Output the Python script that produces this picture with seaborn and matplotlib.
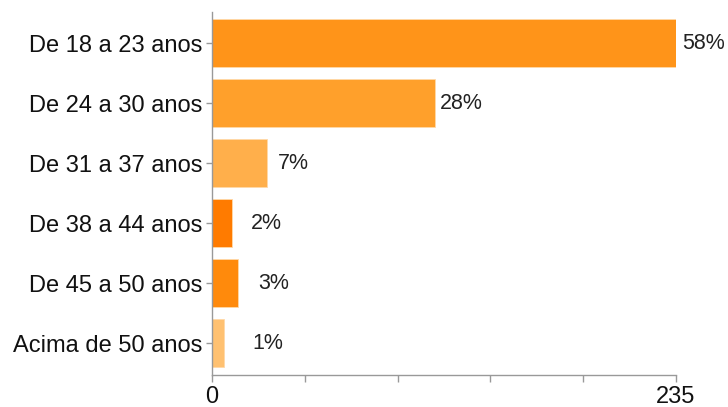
import matplotlib
matplotlib.use("Agg")
import matplotlib.pyplot as plt
import seaborn as sns
import pandas as pd

# faixas etarias e contagens (eixo vai de 0 a 235)
categories = ["De 18 a 23 anos", "De 24 a 30 anos", "De 31 a 37 anos",
              "De 38 a 44 anos", "De 45 a 50 anos", "Acima de 50 anos"]
counts = [235, 113, 28, 10, 13, 6]
pct_labels = ["58%", "28%", "7%", "2%", "3%", "1%"]
bar_colors = ["#FF9419", "#FFA02B", "#FFAF4B", "#FF7B00", "#FF8A0C", "#FFC171"]
# deslocamento horizontal dos rotulos (px)
label_pads = [6, 5, 11, 19, 21, 29]

df = pd.DataFrame({"faixa": categories, "n": counts})

sns.set_style("white")
plt.rcParams["font.family"] = ["Liberation Sans", "DejaVu Sans"]

fig = plt.figure(figsize=(7.28, 4.07), dpi=100)
ax = fig.add_axes([212 / 728, 1 - 375 / 407, 464 / 728, 363 / 407])

sns.barplot(data=df, x="n", y="faixa", hue="faixa", palette=bar_colors,
            legend=False, width=0.8, orient="h", ax=ax, saturation=1,
            edgecolor="#FFD9A8", linewidth=0.6)

for i, (v, lab, pad) in enumerate(zip(counts, pct_labels, label_pads)):
    ax.annotate(lab, xy=(v, i), xytext=(pad * 0.72, 0), textcoords="offset points",
                va="center", ha="left", fontsize=15.5, color="#222222")

ax.set_xlim(0, 235)
ax.set_ylim(5.53, -0.52)
ax.set_xticks([0, 47, 94, 141, 188, 235])
ax.set_xticklabels(["0", "", "", "", "", "235"])
ax.set_xlabel("")
ax.set_ylabel("")

for s in ["top", "right"]:
    ax.spines[s].set_visible(False)
for s in ["left", "bottom"]:
    ax.spines[s].set_color("#999999")
    ax.spines[s].set_linewidth(1.0)

ax.tick_params(axis="y", length=4, color="#999999", width=1, pad=3,
               labelsize=17, labelcolor="#111111", left=True)
ax.tick_params(axis="x", length=5, color="#999999", width=1, pad=3,
               labelsize=17, labelcolor="#111111", bottom=True)

fig.savefig("out.png", dpi=100)
